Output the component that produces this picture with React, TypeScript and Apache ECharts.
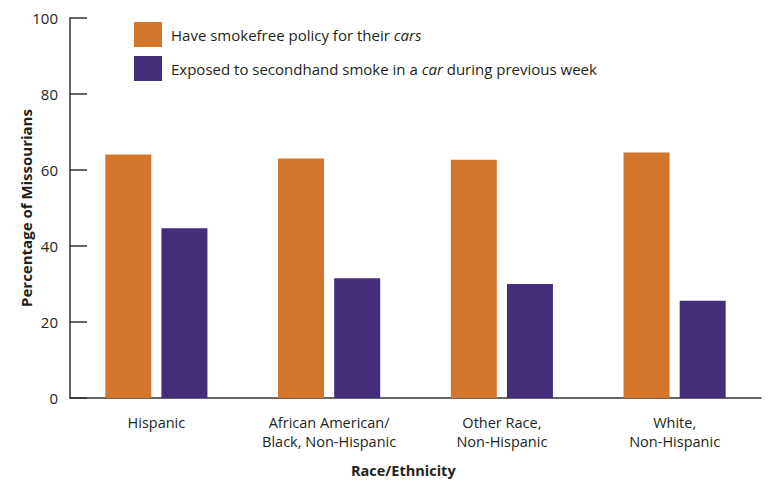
import React, { useEffect, useRef } from "react";
import * as echarts from "echarts";

const categories = [
  "Hispanic",
  "African American/\nBlack, Non-Hispanic",
  "Other Race,\nNon-Hispanic",
  "White,\nNon-Hispanic",
];
const smokefreePolicy = [64.1, 63.0, 62.7, 64.6];
const exposedInCar = [44.7, 31.5, 30.0, 25.6];
const yTicks = [0, 20, 40, 60, 80, 100];

const FONT = "'Open Sans', 'Noto Sans', sans-serif";
const TEXT = "#231F20";

export default function App() {
  const ref = useRef<HTMLDivElement>(null);
  useEffect(() => {
    if (!ref.current) return;
    const chart = echarts.init(ref.current, undefined, { renderer: "svg" });
    chart.setOption({
      animation: false,
      textStyle: { fontFamily: FONT, color: TEXT },
      grid: { left: 70, right: 12, top: 18, bottom: 85, containLabel: false },
      legend: {
        orient: "vertical",
        left: 134,
        top: 22,
        padding: 0,
        itemWidth: 28,
        itemHeight: 25,
        itemGap: 9,
        icon: "rect",
        selectedMode: false,
        textStyle: {
          fontFamily: FONT,
          fontSize: 15,
          color: TEXT,
          padding: [0, 0, 0, 4],
          rich: {
            n: { fontFamily: FONT, fontSize: 15, color: TEXT },
            i: { fontFamily: FONT, fontSize: 15, color: TEXT, fontStyle: "italic" },
          },
        },
        formatter: (name: string) => {
          if (name.startsWith("Have")) return "{n|Have smokefree policy for their }{i|cars}";
          return "{n|Exposed to secondhand smoke in a }{i|car}{n| during previous week}";
        },
      },
      xAxis: {
        type: "category",
        data: categories,
        boundaryGap: true,
        axisLine: { lineStyle: { color: "#333", width: 1.5 } },
        axisTick: { inside: true, length: 8, lineStyle: { color: "#333", width: 1.5 } },
        axisLabel: {
          fontFamily: FONT,
          fontSize: 14.5,
          color: TEXT,
          margin: 15,
          lineHeight: 19,
          interval: 0,
        },
      },
      yAxis: {
        type: "value",
        min: 0,
        max: 100,
        interval: 20,
        name: "Percentage of Missourians",
        nameLocation: "middle",
        nameGap: 37,
        nameMoveOverlap: false,
        nameTextStyle: { fontFamily: FONT, fontSize: 15, fontWeight: "bold", color: TEXT },
        axisLine: { show: true, lineStyle: { color: "#333", width: 1.5 } },
        axisTick: { show: true, inside: true, length: 17, lineStyle: { color: "#333", width: 1.5 } },
        splitLine: { show: false },
        axisLabel: {
          fontFamily: FONT,
          fontSize: 15,
          color: TEXT,
          margin: 12,
          formatter: (v: number) => (yTicks.includes(v) ? String(v) : ""),
        },
      },
      graphic: [
        {
          type: "text",
          left: 351,
          top: 463,
          style: {
            text: "Race/Ethnicity",
            fontFamily: FONT,
            fontSize: 14.5,
            fontWeight: "bold",
            fill: TEXT,
          },
        },
      ],
      series: [
        {
          name: "Have smokefree policy for their cars",
          type: "bar",
          data: smokefreePolicy,
          barWidth: 46,
          barGap: "22%",
          itemStyle: { color: "#D3752A" },
        },
        {
          name: "Exposed to secondhand smoke in a car during previous week",
          type: "bar",
          data: exposedInCar,
          barWidth: 46,
          barGap: "22%",
          itemStyle: { color: "#442D7B" },
        },
      ],
    });
    return () => chart.dispose();
  }, []);
  return <div ref={ref} style={{ width: 773, height: 483, position: "absolute", left: 0, top: 0 }} />;
}
